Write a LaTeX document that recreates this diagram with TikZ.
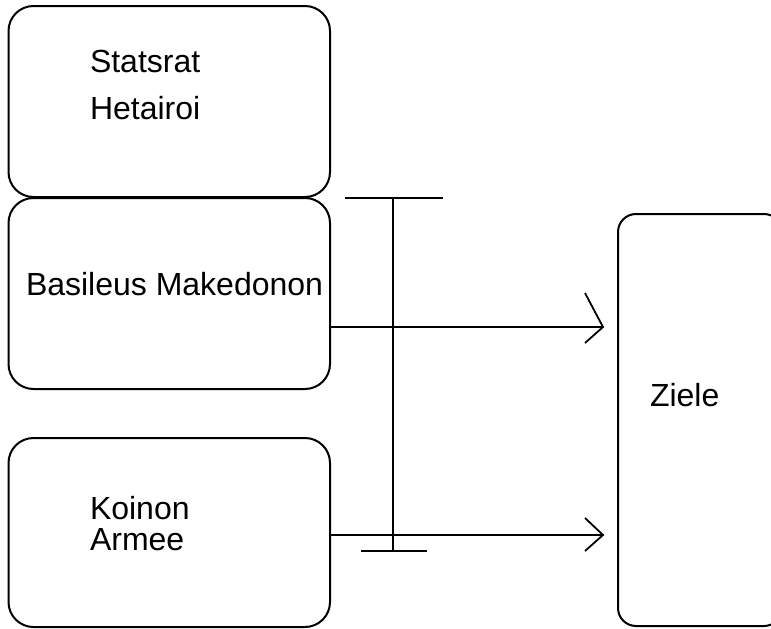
\documentclass[tikz,border=0pt]{standalone}
\usepackage{fontspec}
\setmainfont{Liberation Sans}
\usetikzlibrary{calc}
\begin{document}
\begin{tikzpicture}[x=1pt,y=-1pt,
  box/.style={draw=black,line width=2pt,rounded corners=25pt,rectangle,
    inner sep=0pt,outer sep=0pt,anchor=north west},
  label/.style={inner sep=0pt,outer sep=0pt,anchor=base west,
    font=\fontsize{32}{38}\selectfont},
  conn/.style={draw=black,line width=1.8pt,line cap=butt,line join=miter}]
\useasboundingbox (0,0) rectangle (771,629);
\clip (0,0) rectangle (771,629);

% boxes
\node[box,minimum width=321.5pt,minimum height=191pt] (rat) at (8.5,6) {};
\node[box,minimum width=321.5pt,minimum height=191pt] (basil) at (8.5,198) {};
\node[box,minimum width=321.5pt,minimum height=189pt] (heer) at (8.5,438) {};
\node[box,rounded corners=18pt,minimum width=164pt,minimum height=412pt] (ziele) at (618,214) {};

% labels
\node[label] (t1) at (90,72) {Statsrat};
\node[label] (t2) at (90,119) {Hetairoi};
\node[label] (t3) at (26,295) {Basileus Makedonon};
\node[label] (t4) at (90,519) {Koinon};
\node[label] (t5) at (90,550) {Armee};
\node[label] (t6) at (650,406) {Ziele};

% arrow ends
\coordinate (tipA) at (603,327);
\coordinate (tipB) at (603,535);

% arrows to the goals
\draw[conn] (basil.east |- tipA) -- (tipA);
\draw[conn] ($(tipA)+(-18,-34)$) -- (tipA) -- ($(tipA)+(-18,16)$);
\draw[conn] (heer.east |- tipB) -- (tipB);
\draw[conn] ($(tipB)+(-18,-17)$) -- (tipB) -- ($(tipB)+(-18,16)$);

% vertical bar with end stops
\coordinate (barTop) at (393,198);
\coordinate (barBot) at (393,551);
\draw[conn] (barTop) -- (barBot);
\draw[conn] ($(barTop)+(-48,0)$) -- ($(barTop)+(50,0)$);
\draw[conn] ($(barBot)+(-32,0)$) -- ($(barBot)+(34,0)$);
\end{tikzpicture}
\end{document}
